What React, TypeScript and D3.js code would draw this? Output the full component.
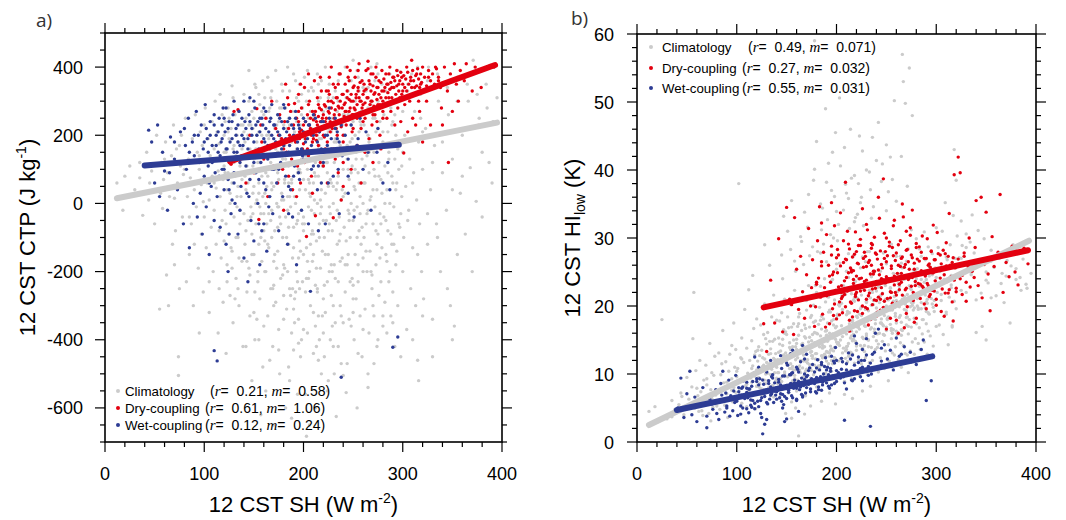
import React from 'react';
import * as d3 from 'd3';

type P = [number, number, number]; // [SH, CTP, HI_low]

const climatology: P[] = [
[12,60,4.5],[18,-20,5.2],[25,110,18.0],[30,40,3.4],[35,75,6.1],[38,-35,4.8],
[42,150,5.5],[44,10,7.2],[47,95,4.0],[50,-60,9.5],[52,200,6.3],[55,-310,8.1],[56,30,15.2],[57,120,22.0],[58,-15,5.0],[59,70,10.5],
[61,180,6.8],[62,-210,4.5],[63,90,12.0],[64,-300,7.4],[66,45,3.9],[67,140,9.1],[68,-120,5.6],[69,230,11.3],[70,15,8.4],[71,-80,6.0],[72,160,4.2],[73,60,14.5],[74,-505,7.7],[75,-250,10.2],[76,110,5.1],[77,200,9.8],[78,-40,12.6],[79,85,6.9],[74,-450,3.1],
[81,250,7.5],[82,-230,13.1],[83,20,4.8],[84,130,9.9],[85,-150,6.2],[86,75,16.4],[87,-60,8.7],[88,190,5.4],[89,-300,11.8],[90,40,7.1],[91,260,3.6],[92,-10,10.4],[93,150,12.9],[94,-190,6.6],[95,100,9.3],[95,-380,14.2],[96,210,5.9],[97,-90,8.0],[97,55,17.5],[98,170,11.0],[99,-260,7.3],[99,5,13.6],[100,120,6.4],[100,-40,9.6],
[101,280,10.8],[102,-130,38.0],[103,60,7.8],[104,190,12.4],[105,-320,5.7],[105,10,15.3],[106,140,9.0],[107,-70,11.7],[108,240,6.8],[108,80,19.5],[109,-200,8.3],[110,160,13.8],[110,-20,5.2],[111,300,10.1],[112,45,22.4],[112,-120,7.6],[113,210,12.0],[114,-380,9.4],[114,95,6.1],[115,-250,14.9],[115,175,8.8],[116,20,11.2],[117,-160,16.7],[117,130,7.0],[118,260,12.8],[118,-50,9.7],[119,70,4.9],[119,-290,13.3],[120,200,10.6],[120,-110,18.1],[120,110,8.2],[116,320,24.5],
[121,-20,11.9],[121,240,7.3],[122,-440,14.0],[122,150,9.5],[123,40,12.7],[123,-180,8.0],[124,90,17.2],[124,280,10.4],[125,-90,6.9],[125,190,13.5],[126,-270,11.1],[126,0,9.2],[127,220,15.8],[127,120,7.7],[128,-140,12.2],[128,60,20.3],[129,310,10.0],[129,-350,8.6],[130,170,14.4],[130,-40,11.0],[131,260,9.0],[131,80,16.1],[132,-220,12.9],[132,140,7.4],[133,-10,26.0],[133,200,11.5],[134,-100,13.7],[134,50,9.9],[135,270,18.4],[135,-300,10.7],[136,110,14.8],[136,-60,8.3],[137,230,12.3],[137,20,21.6],[138,-170,15.1],[138,160,10.2],[139,-420,11.6],[139,90,13.0],[140,320,17.9],[140,-30,9.4],[134,-250,6.8],[128,345,29.0],
[141,180,12.1],[141,-120,8.6],[142,40,15.3],[142,250,10.2],[143,-260,17.8],[143,110,9.1],[144,-50,13.4],[144,200,6.9],[145,300,11.6],[145,-190,19.0],[146,70,14.2],[146,-330,7.8],[147,150,12.8],[147,-10,16.5],[148,270,10.0],[148,-90,21.0],[149,30,13.1],[149,220,8.2],[150,-150,15.8],[150,130,11.5],[151,-400,9.6],[151,90,18.4],[152,340,12.3],[152,-60,7.2],[153,180,14.6],[153,10,10.8],[154,-230,20.2],[154,240,13.6],[155,60,5.9],[155,-120,16.9],[156,290,11.1],[156,-280,8.8],[157,150,17.4],[157,-30,12.7],[158,200,9.3],[158,-170,22.3],[159,100,14.0],[159,-480,10.6],[160,260,15.1],[160,-80,7.5],
[142,-420,8.1],[145,390,27.5],[148,-520,16.0],[151,350,31.0],[153,-340,12.8],[155,320,35.5],[157,-620,10.6],[159,360,25.1],[146,-210,24.0],[150,50,20.7],[152,160,7.3],[154,120,28.3],[156,-10,9.0],[158,80,26.6],[147,230,33.2],[149,-30,4.2],[155,210,3.5],[159,20,5.0],
[161,30,12.4],[161,310,9.1],[162,-200,15.7],[162,140,11.0],[163,-60,8.3],[163,250,18.9],[164,80,13.1],[164,-330,10.2],[165,190,16.4],[165,-130,7.0],[166,20,14.5],[166,280,21.3],[167,-250,11.9],[167,120,9.6],[168,-20,17.2],[168,330,13.4],[169,-420,6.8],[169,170,15.3],[170,50,10.7],[170,-170,19.4],[171,220,12.1],[171,-80,8.6],[172,100,14.0],[172,-290,23.0],[173,300,11.4],[173,0,16.9],[174,-140,9.4],[174,150,13.2],[175,-370,18.6],[175,70,10.5],[176,260,15.8],[176,-40,12.7],[177,190,20.1],[177,-220,9.9],[178,30,14.6],[178,350,11.3],[179,-100,17.8],[179,130,13.0],[180,-270,8.1],[180,230,22.0],
[162,-550,18.4],[164,370,30.2],[166,-460,12.0],[168,60,33.8],[170,-650,20.8],[172,390,36.4],[174,-10,10.9],[176,-500,28.7],[178,280,40.1],[180,10,44.2],[163,200,11.2],[165,-30,29.5],[167,310,26.1],[169,-250,10.4],[171,110,31.6],[173,-190,27.4],[175,240,12.7],[177,-60,38.5],[179,330,23.0],[161,-110,21.0],[178,150,59.0],[162,0,0.9],[168,-100,4.1],[174,90,5.3],
[181,70,14.4],[181,-190,10.7],[182,280,17.3],[182,-40,12.1],[183,150,19.8],[183,-310,9.2],[184,20,15.6],[184,240,22.9],[185,-120,11.3],[185,110,16.6],[186,-250,13.8],[186,330,8.9],[187,-10,18.1],[187,190,12.5],[188,-380,24.0],[188,60,14.9],[189,270,10.1],[189,-160,20.6],[190,120,15.7],[190,-70,11.9],[191,210,17.5],[191,-280,13.2],[192,0,9.7],[192,360,21.3],[193,-200,16.0],[193,160,12.6],[194,-50,19.1],[194,90,14.1],[195,300,10.4],[195,-340,23.7],[196,40,15.3],[196,-110,11.5],[197,230,18.0],[197,-450,13.4],[198,130,8.7],[198,-20,20.9],[199,280,16.8],[199,-230,12.2],[200,70,25.4],[200,-150,14.7],
[182,-600,14.6],[184,400,35.0],[186,-520,12.4],[188,-630,22.0],[190,380,38.2],[192,-260,11.5],[194,-560,30.5],[196,350,42.6],[198,-400,13.9],[200,-80,33.9],[183,-100,11.0],[185,250,31.2],[187,-270,29.1],[189,40,12.6],[191,-350,32.7],[193,310,13.1],[195,100,37.0],[197,-140,30.0],[199,200,45.5],[181,170,28.0],[189,120,49.0],[195,-30,12.0],[192,200,41.0],[198,320,36.1],[186,20,34.4],[190,-430,26.5],[184,-200,27.8],[196,-250,23.9],[188,180,14.0],[200,250,26.2],[185,60,6.0],[193,-60,7.2],[199,150,5.6],
[201,-60,14.4],[201,200,18.6],[202,40,11.9],[202,-260,20.2],[203,300,9.5],[203,-130,26.3],[204,100,15.0],[204,-380,12.2],[205,-10,22.1],[205,250,17.1],[206,-200,10.0],[206,150,19.5],[207,20,13.8],[207,-300,23.0],[208,340,16.6],[208,-90,8.9],[209,180,21.7],[209,-170,12.3],[210,60,25.1],[210,-440,15.9],[211,270,11.8],[211,-30,18.9],[212,120,14.5],[212,-240,24.2],[213,-110,10.4],[213,220,19.0],[214,0,16.7],[214,380,13.2],[215,-330,21.8],[215,80,9.3],[216,170,17.9],[216,-60,12.9],[217,-190,27.3],[217,310,15.1],[218,40,20.7],[218,-500,11.6],[219,240,23.6],[219,-140,14.8],[220,110,18.5],[220,-280,13.5],
[202,-560,32.0],[204,390,40.6],[206,-650,15.5],[208,-20,43.3],[210,330,13.6],[212,-360,35.8],[214,200,46.0],[216,-400,14.9],[218,360,39.2],[220,-50,16.2],[203,140,50.6],[205,-220,12.3],[207,270,34.1],[209,-80,37.9],[211,90,14.1],[213,-420,31.4],[215,300,38.8],[217,10,15.8],[219,-330,33.0],[201,370,29.6],[212,-600,27.7],[206,60,11.8],[218,190,32.4],[210,-150,36.6],[214,-250,12.9],[203,-683,20.0],[208,130,7.0],[216,-100,6.4],
[221,-100,16.9],[221,160,21.1],[222,30,12.1],[222,-320,24.0],[223,280,9.8],[223,-50,18.8],[224,90,14.2],[224,-230,25.6],[225,210,11.5],[225,-150,19.9],[226,-10,15.4],[226,350,27.2],[227,-400,10.6],[227,140,22.5],[228,60,13.3],[228,-270,17.6],[229,250,26.5],[229,-80,12.4],[230,0,20.7],[230,310,15.9],[231,-180,9.9],[231,120,23.1],[232,-350,14.0],[232,190,19.3],[233,40,28.0],[233,-625,11.7],[234,-120,16.6],[234,270,21.2],[235,80,13.9],[235,-230,24.3],[236,380,18.1],[236,-40,12.0],[237,170,20.8],[237,-300,15.5],[238,10,10.7],[238,-470,25.0],[239,230,17.4],[239,-160,13.6],[240,100,22.2],[240,-505,14.9],
[222,400,38.0],[224,-550,35.2],[226,220,42.8],[228,-180,14.2],[230,-420,40.0],[232,330,15.0],[234,-20,37.1],[236,150,44.8],[238,-330,16.6],[240,260,41.4],[221,-450,33.5],[225,50,36.0],[229,-360,17.0],[233,180,39.7],[237,-90,34.6],[239,320,18.0],[227,-30,31.8],[231,-500,28.0],[235,300,32.9],[223,120,45.0],[226,-200,7.5],[234,60,8.2],
[241,-70,18.7],[241,200,13.9],[242,30,22.8],[242,-260,10.3],[243,310,16.0],[243,-555,20.5],[244,130,12.4],[244,-180,25.1],[245,-20,17.5],[245,260,11.2],[246,-340,21.9],[246,70,14.8],[247,180,27.8],[247,-100,15.8],[248,0,10.8],[248,360,19.6],[249,-220,23.0],[249,110,13.4],[250,240,16.4],[250,-50,26.2],[251,-400,12.1],[251,50,18.2],[252,300,20.9],[252,-150,14.3],[253,150,24.0],[253,-280,11.9],[254,-10,17.3],[254,390,22.6],[255,90,15.2],[255,-230,29.1],[256,210,13.1],[256,-80,19.4],[257,20,16.5],[257,-330,24.8],[258,270,12.8],[258,-120,21.4],[259,130,14.0],[259,-450,18.9],[260,340,27.3],[260,0,16.3],
[242,400,47.0],[244,-470,17.5],[246,-30,40.9],[248,230,18.6],[250,-280,43.7],[252,100,36.8],[254,-600,19.4],[256,330,38.6],[258,60,50.2],[260,-200,35.4],[248,-360,20.7],[254,170,41.9],[250,420,34.0],[245,-150,38.3],[257,-30,20.0],[252,40,9.0],
[261,-100,20.5],[261,230,15.8],[262,60,24.7],[262,-310,12.1],[263,330,18.3],[263,-60,22.9],[264,140,14.6],[264,-200,27.3],[265,-20,16.5],[265,280,11.0],[266,-380,21.0],[266,90,25.6],[267,190,53.0],[267,-140,14.2],[268,20,19.5],[268,400,23.9],[269,-250,13.0],[269,160,49.8],[270,-60,17.2],[270,250,26.6],[271,100,12.8],[271,-330,21.7],[272,-10,15.9],[272,360,28.4],[273,-180,55.0],[273,210,18.0],[274,40,13.4],[274,-420,22.6],[275,300,16.9],[275,-90,31.2],[276,120,48.0],[276,-270,14.7],[277,-30,20.5],[277,240,25.3],[278,70,12.9],[278,-230,19.7],[279,350,23.1],[279,-130,15.2],[280,180,29.9],[280,-360,17.4],
[265,-500,42.0],[268,290,20.9],[271,-470,37.6],[274,410,19.9],[266,150,57.0],[272,80,10.2],
[281,-40,21.1],[281,260,25.5],[282,110,14.5],[282,-290,19.5],[283,330,28.4],[283,-150,16.8],[284,40,23.1],[284,-380,13.6],[285,210,20.5],[285,-80,27.3],[286,-230,15.9],[286,150,24.8],[287,380,18.0],[287,0,22.0],[288,-330,30.9],[288,280,14.7],[289,-120,19.7],[289,80,26.8],[290,240,17.4],[290,-260,23.9],[291,-10,12.9],[291,340,21.0],[292,130,28.7],[292,-420,16.3],[293,-180,24.4],[293,200,18.8],[294,60,15.6],[295,-300,22.5],[296,300,20.3],[296,-60,27.7],[297,170,14.1],[298,-450,19.2],[299,20,25.6],[300,270,17.0],[300,-200,31.5],
[301,-100,22.0],[302,200,28.6],[303,50,17.2],[304,-370,25.1],[305,330,20.8],[306,-20,31.0],[307,130,15.8],[308,-250,23.9],[309,380,35.2],[310,-130,19.1],[311,90,26.8],[312,270,14.3],[313,-300,21.3],[314,10,29.0],[315,-460,24.5],[316,180,16.9],[317,-60,33.3],[318,320,20.7],[319,-200,27.0],[320,100,38.5],[316,-520,17.1],[318,250,43.0],
[321,-280,30.3],[323,220,27.1],[325,-120,32.5],[326,400,28.9],[328,40,26.0],[330,-340,30.6],[332,170,25.2],[334,-60,29.4],[336,300,33.4],[338,-200,27.8],[340,90,16.1],[342,350,31.1],[344,-20,26.6],[346,260,17.0],[348,-300,29.9],[350,130,15.0],[352,-360,23.4],[355,370,28.2],[358,30,25.7],[360,200,21.5],
[363,-90,27.0],[366,300,24.8],[368,105,20.5],[371,420,26.7],[374,6,17.5],[377,250,29.0],[380,-40,23.9],[384,350,24.2],[387,120,26.9],[391,240,22.6],
[140,210,11.0],[142,-80,13.2],[144,60,9.4],[146,160,15.1],[148,-150,10.3],[150,250,12.7],[152,0,16.8],[154,-200,11.5],[156,120,14.0],[158,270,9.8],[160,-30,13.6],[162,90,17.4],[164,-120,12.0],[166,200,10.9],[168,40,15.5],[170,-240,11.8],[172,160,14.7],[174,-70,18.3],[176,280,12.3],[178,10,16.1],[180,-180,13.0],[182,130,11.2],[184,-20,17.9],[186,230,14.2],[188,70,12.9],[190,-130,16.4],[192,180,19.1],[194,-230,13.5],[196,100,15.9],[198,260,12.4],[200,-40,17.0],[202,140,14.6],[204,-170,20.3],[206,30,13.1],[208,220,16.5],[210,-90,18.7],[212,80,12.6],[214,-260,15.3],[216,190,17.7],[218,-10,21.2],[220,270,14.1],[222,-150,16.9],[224,120,19.6],[226,-60,13.8],[228,210,17.1],[230,50,20.5],[232,-220,15.0],[234,150,18.1],[236,-110,22.0],[238,240,16.2],[240,20,19.0],[242,-180,14.4],[244,170,21.5],[246,-50,17.3],[248,90,15.7],[250,-240,20.0],[252,200,18.4],[254,-100,22.7],[256,60,16.0],[258,230,19.8],[260,-160,17.5],[262,110,23.3],[264,-30,18.6],[266,180,16.4],[268,-200,21.4],[270,40,19.3],[272,250,17.0],[274,-120,22.8],[276,80,20.1],[278,-60,18.2],[280,210,24.0],[282,0,19.7],[284,-170,21.9],[286,130,18.0],[288,-90,23.5],[290,60,20.6],[292,260,19.0],[294,-140,22.4],[296,100,24.6],[298,-30,20.8],
[141,80,10.2],[143,-170,14.4],[145,230,8.9],[147,-40,12.5],[149,110,16.2],[151,-260,11.3],[153,200,13.9],[155,30,9.9],[157,-100,15.0],[159,150,12.1],[161,-200,17.0],[163,50,10.6],[165,270,14.3],[167,-50,12.8],[169,100,16.7],[171,-150,11.6],[173,230,15.4],[175,-10,13.3],[177,140,17.6],[179,-210,12.2],[181,60,15.9],[183,220,14.0],[185,-70,18.5],[187,120,12.7],[189,-250,16.3],[191,20,14.8],[193,240,19.4],[195,-160,13.7],[197,90,17.2],[199,-60,15.1],[201,190,18.8],[203,-220,14.2],[205,70,20.4],[207,-120,16.1],[209,250,13.4],[211,10,19.2],[213,-190,17.4],[215,160,15.6],[217,-30,20.9],[219,110,14.7],[221,-240,18.3],[223,220,16.6],[225,-80,21.6],[227,70,15.2],[229,-200,19.5],[231,180,17.8],[233,-50,22.3],[235,140,16.8],[237,-170,20.2],[239,40,18.9],[241,260,15.9],[243,-110,23.1],[245,100,19.1],[247,-230,17.1],[249,190,21.0],[251,-20,18.0],[253,130,23.8],[255,-180,16.7],[257,240,20.7],[259,-70,18.5],[261,60,22.1],[263,-140,19.9],[265,200,17.6],[267,10,24.2],[269,-210,20.3],[271,150,18.4],[273,-80,23.0],[275,220,21.3],[277,-160,19.4],[279,30,25.1],[281,170,20.0],[283,-50,22.9],[285,90,19.6],[287,-200,24.7],[289,230,21.6],[291,-120,20.4],[293,40,25.8],[295,160,22.6],[297,-70,19.8],[299,110,23.7],
[120,150,8.2],[122,-60,10.9],[124,210,7.0],[126,30,12.4],[128,-190,9.1],[130,120,11.7],[132,-100,8.0],[134,180,13.0],[136,-20,9.7],[138,70,12.1],[125,250,7.8],[131,-280,10.1],[137,140,6.6],[133,20,14.8],[127,-130,11.3],[139,230,9.0],[121,90,13.5],[135,-160,7.2],[129,160,15.2],[123,-230,8.6],
[150,-320,12.0],[160,-360,14.5],[170,-300,9.7],[180,-340,16.0],[190,-310,13.3],[200,-370,18.2],[210,-320,14.0],[220,-380,17.3],[230,-300,15.6],[240,-350,19.7],[250,-320,16.9],[260,-370,20.8],[270,-300,18.3],[280,-330,21.7],[290,-350,19.2],[155,-400,10.8],[175,-430,14.9],[195,-410,17.8],[215,-460,13.1],[235,-420,20.1],[255,-440,16.4],[275,-400,22.4],[185,-480,12.7],[225,-520,18.6],[265,-540,15.7],
[205,330,21.5],[215,350,16.3],[225,310,19.8],[235,360,24.4],[245,330,18.1],[255,370,22.0],[265,340,26.3],[275,380,20.5],[285,350,23.9],[295,390,21.1],[305,350,25.4],[315,400,22.7],[325,360,27.0],[335,380,24.6],[345,340,21.9],[355,300,26.6],[365,350,23.3],[375,320,25.9],[385,280,22.3],[395,310,24.8],
[300,150,24.2],[305,-50,21.7],[310,60,27.2],[315,-150,23.1],[320,210,25.7],[325,-30,22.3],[330,120,28.6],[335,-100,24.9],[340,180,20.9],[345,-250,26.4],[350,40,23.8],[355,-150,21.2],[360,80,27.4],[370,-200,24.4],[380,150,25.5],[390,60,23.2],[310,-400,18.8],[330,-450,22.0],[350,-400,25.0],[320,-330,19.6],
[60,130,7.9],[70,-180,9.3],[80,100,5.3],[90,-120,8.8],[100,230,10.4],[65,20,4.6],[75,170,6.4],[85,-40,11.5],[95,140,7.6],[105,-230,12.2],[110,60,8.5],[115,-80,10.8],[45,60,6.7],[35,120,3.7],[20,80,2.9],
];

const dryCoupling: P[] = [
[127,115,17.4],[130,270,13.3],[134,275,23.8],[138,140,17.5],[142,60,29.9],[146,200,16.2],[150,90,34.5],[153,278,21.0],[155,-47,20.2],[158,180,33.0],[160,130,25.4],[157,230,15.8],
[162,250,19.5],[164,20,27.3],[166,170,22.1],[168,300,18.2],[170,110,24.6],[172,220,31.4],[174,60,20.0],[176,260,26.8],[178,190,17.0],[180,-20,23.2],[181,240,29.6],[183,150,34.6],[184,310,21.3],[185,80,25.9],[186,200,18.8],[187,270,27.9],[188,130,22.7],[189,40,16.9],[190,230,30.5],[182,350,24.1],[179,100,19.9],[185,290,32.2],
[191,293,21.8],[192,180,26.0],[193,250,17.4],[194,110,23.5],[195,320,28.8],[196,210,19.6],[197,60,25.0],[198,280,31.8],[199,160,22.3],[200,230,18.1],[201,340,24.9],[202,190,27.5],[203,-97,20.6],[204,260,33.7],[205,140,23.0],[206,300,19.0],[207,220,26.4],[208,80,21.7],[209,270,38.2],[210,190,24.2],[211,360,22.5],[212,-36,29.1],[213,240,17.9],[214,310,25.6],[215,170,20.4],[216,280,27.2],[217,120,23.9],[218,330,19.3],[219,250,30.9],[220,200,22.0],[193,20,24.4],[197,350,18.6],[201,120,28.3],[205,380,21.1],[209,30,26.9],[213,200,16.3],[217,370,25.2],[195,240,35.2],[211,260,31.0],[219,150,21.4],
[221,290,26.3],[222,240,20.9],[223,330,24.0],[224,180,29.8],[225,270,22.8],[226,370,18.9],[227,210,27.0],[228,300,23.6],[229,140,19.8],[230,-42,25.8],[231,260,31.2],[232,340,21.5],[233,220,26.7],[234,310,23.1],[235,90,28.5],[236,280,20.2],[237,380,24.7],[238,240,30.1],[239,320,22.6],[240,180,27.6],[241,290,19.1],[242,350,25.3],[243,230,32.9],[244,310,21.0],[245,150,26.1],[246,270,23.9],[247,390,38.7],[248,300,20.7],[249,210,28.0],[250,340,24.3],[224,60,22.2],[228,400,27.9],[232,130,17.2],[236,380,29.0],[240,50,23.3],[244,400,19.4],[248,100,30.7],[226,320,34.3],[234,200,18.0],[242,270,36.0],[238,10,25.1],[246,360,21.8],[230,350,32.0],[222,160,28.9],[250,260,16.6],
[251,280,27.4],[252,370,23.7],[253,320,29.4],[254,250,21.2],[255,340,25.9],[256,410,19.7],[257,300,31.8],[258,220,24.4],[259,360,22.0],[260,290,27.8],[261,330,20.5],[262,250,26.0],[263,390,23.2],[264,310,29.6],[265,417,24.8],[266,270,21.6],[267,350,33.1],[268,300,25.7],[269,230,22.4],[270,380,28.2],[271,320,19.9],[272,260,26.5],[273,400,24.1],[274,340,30.4],[275,290,22.9],[276,360,27.1],[277,200,20.8],[278,310,25.4],[279,390,23.6],[280,270,29.2],[254,170,18.2],[258,60,32.6],[262,150,16.0],[266,190,35.0],[270,120,18.9],[274,240,31.5],[278,160,17.6],[256,310,28.6],[268,380,16.8],[276,280,34.1],
[281,330,26.9],[282,290,23.3],[283,380,28.7],[284,250,21.1],[285,350,25.2],[286,310,30.3],[287,400,22.7],[288,270,27.0],[289,340,24.6],[290,300,19.6],[291,370,29.9],[292,230,23.0],[293,320,26.2],[294,390,21.7],[295,280,28.1],[296,350,24.9],[297,310,31.9],[298,240,22.2],[299,370,26.8],[300,330,20.1],[302,290,25.5],[304,400,27.5],[306,310,23.4],[308,360,18.5],[310,250,29.3],[312,340,21.9],[314,380,24.2],[316,300,26.4],[318,350,39.3],[320,180,22.6],[301,148,30.8],[305,210,19.2],[309,420,27.7],[313,230,33.6],[317,270,17.8],
[322,330,41.9],[324,300,39.6],[326,370,24.5],[328,230,27.3],[330,340,20.7],[333,400,30.0],[336,360,25.1],[339,280,28.6],[342,400,23.0],[345,330,36.0],[348,380,26.1],[350,270,33.8],[352,410,24.7],[354,350,19.3],[356,300,30.2],[358,390,25.8],[340,230,35.5],[346,120,21.2],
[362,360,27.9],[364,410,36.4],[367,380,22.0],[370,330,26.4],[373,400,24.3],[376,229,28.8],[379,340,25.0],[382,395,23.1],[388,405,28.5],[392,400,26.2],
[196,190,24.6],[198,215,20.3],[200,175,27.1],[202,240,22.8],[203,205,18.7],[204,160,25.9],[206,230,21.4],[207,250,29.6],[208,200,23.7],[209,180,19.9],[210,245,26.8],[211,215,22.2],[212,270,24.9],[213,185,28.4],[214,230,20.6],[215,255,25.3],[216,210,18.4],[217,240,23.3],[218,275,27.6],[219,225,21.7],[220,260,24.4],[221,195,19.2],[222,285,26.2],[223,250,22.9],[224,230,28.9],[225,300,24.1],[226,265,20.0],[227,240,25.7],[228,280,22.3],[229,220,27.3],[230,295,23.8],[231,250,19.6],[232,275,26.4],[233,310,21.9],[234,240,24.7],[235,285,29.2],[236,260,22.5],[237,300,25.1],[238,225,20.9],[239,280,27.8],[240,320,23.6],[241,255,26.9],[242,295,21.3],[243,270,24.6],[244,330,28.1],[245,245,22.7],[246,305,25.6],[247,280,19.8],[248,320,27.0],[249,260,23.4],[250,300,26.5],[251,345,21.1],[252,275,24.0],[253,310,28.8],[254,290,22.1],[255,330,25.5],[256,265,20.4],[257,355,27.4],[258,300,23.1],[259,280,26.7],[260,320,21.6],[261,350,24.8],[262,295,29.0],[263,335,22.4],[264,270,25.8],[265,310,23.5],[266,360,27.2],[267,290,20.7],[268,330,24.3],[269,300,26.1],[270,345,22.6],[271,285,28.3],[272,325,23.9],[273,370,25.4],[274,305,21.2],[275,340,27.5],[276,320,24.2],[277,290,22.0],[278,355,26.3],[279,330,23.0],[280,300,28.6],[281,365,24.5],[282,340,21.8],[283,310,26.6],[284,350,23.2],[285,325,27.9],[286,380,22.9],[287,335,25.0],[288,355,20.3],[289,310,24.4],[290,370,27.0],[291,340,23.3],[292,360,26.0],[293,300,21.4],[294,345,25.7],[295,375,28.0],[296,330,22.3],[297,360,24.9],[298,385,26.8],[299,320,23.7],[300,350,21.0],[301,375,25.3],[302,340,27.7],[303,365,23.0],[304,330,24.1],[305,385,26.2],[306,350,22.5],[307,300,28.2],[308,370,24.6],[309,340,21.9],[310,390,25.9],[311,360,23.6],[312,320,27.3],[313,375,22.4],[314,345,26.0],[315,395,24.3],[316,365,20.6],[317,340,27.1],[318,380,23.8],[319,355,25.6],[320,400,22.1],[322,370,26.9],[324,345,24.0],[326,390,21.7],[328,360,27.8],[330,380,23.5],[332,350,25.8],[334,395,22.8],[336,370,26.5],[338,340,24.2],[230,160,21.0],[240,200,18.5],[250,220,30.0],[260,240,17.9],[270,260,31.0],[280,250,18.2],[225,330,23.0],[235,350,26.0],[245,370,24.0],[255,390,22.0],[265,395,27.0],[215,290,25.0],[205,290,22.0],[195,270,27.5],[190,190,21.5],[185,220,26.5],[180,160,23.5],[175,200,22.7],[220,110,28.0],[240,120,20.8],
];

const wetCoupling: P[] = [
[41,110,5.0],[44,215,9.4],[47,180,3.6],[50,60,7.1],[53,230,10.4],[55,20,4.0],[58,150,6.6],[60,95,3.0],[63,-20,5.5],[66,195,8.0],[70,130,2.1],[73,40,6.3],[76,210,4.8],[79,-60,7.7],
[81,170,5.9],[82,100,3.3],[84,250,8.6],[85,-130,6.0],[86,60,10.4],[88,180,4.4],[89,0,7.2],[90,140,5.3],[92,270,9.1],[93,-40,3.8],[94,200,6.8],[95,120,8.3],[96,30,4.6],[97,230,7.5],[98,-90,5.8],[99,160,9.8],[100,80,6.2],[101,290,3.9],[102,-10,8.0],[103,190,6.9],[104,110,4.1],[105,-150,7.9],[106,240,5.0],[107,50,9.0],[108,170,6.4],[109,130,2.9],[110,-432,7.3],[110,260,8.8],
[111,90,6.5],[112,200,4.3],[113,-462,7.8],[113,20,9.6],[114,150,5.4],[115,250,8.2],[116,-70,6.1],[117,180,10.1],[118,100,4.9],[119,280,7.0],[120,40,8.9],[121,210,6.0],[122,-120,5.2],[123,160,9.3],[124,70,7.4],[125,240,3.6],[126,130,1.2],[127,-30,8.5],[128,190,6.7],[129,260,10.6],[130,90,7.7],[131,0,5.6],[132,220,9.0],[133,150,6.3],[134,-90,8.1],[135,270,7.1],[136,120,11.2],[137,50,5.8],[138,200,8.7],[139,170,6.9],[140,-160,7.4],[118,230,12.5],[124,-200,4.2],[130,300,3.3],[136,-20,9.9],[122,280,11.0],[128,10,2.6],[134,180,12.0],
[141,240,7.6],[142,110,9.2],[143,30,6.5],[144,190,8.4],[145,260,10.8],[146,70,7.0],[147,-50,5.5],[148,220,9.7],[149,150,8.0],[150,-110,6.4],[151,280,11.3],[152,90,7.3],[153,200,9.9],[154,0,8.6],[155,160,6.8],[156,250,10.2],[157,120,7.9],[158,-80,9.1],[159,230,8.2],[160,60,6.1],[161,180,10.7],[162,270,8.9],[163,-140,7.7],[164,130,11.8],[165,210,9.4],[166,20,6.6],[167,250,8.3],[168,100,10.0],[169,-30,7.2],[170,190,9.6],[144,-230,12.7],[150,300,3.4],[156,-180,13.5],[162,40,4.5],[168,290,12.2],[148,140,3.0],[154,240,13.0],[160,-60,11.0],[166,160,14.2],[146,310,5.0],
[171,230,9.8],[172,140,8.5],[173,60,10.9],[174,260,7.8],[175,-80,9.3],[176,200,11.4],[177,120,8.8],[178,240,10.3],[179,20,7.4],[180,170,9.5],[181,280,12.1],[182,80,8.1],[183,210,10.6],[184,-120,9.0],[185,150,11.7],[186,250,8.4],[187,40,10.0],[188,190,9.2],[189,-40,12.4],[190,220,8.7],[191,110,11.0],[192,270,9.9],[193,-180,7.9],[194,160,10.8],[195,230,12.6],[196,70,9.4],[197,200,11.9],[198,-20,8.6],[199,140,13.9],[200,250,10.5],
[202,180,10.2],[205,230,12.3],[207,-258,9.6],[208,100,3.2],[210,260,11.5],[212,150,13.1],[214,40,10.0],[216,210,12.8],[218,240,9.3],[220,120,14.5],[222,-60,11.7],[224,200,10.8],[226,250,13.6],[228,160,12.0],[230,80,15.2],[232,220,11.1],[234,190,2.3],[236,-30,12.9],[238,-510,10.7],[239,140,16.0],[226,280,9.0],[218,60,15.6],
[242,200,16.6],[245,130,11.9],[248,230,14.3],[251,-40,12.2],[254,170,13.5],[257,250,10.6],[260,100,15.3],[263,210,12.6],[268,-20,14.0],[274,150,13.2],[280,60,11.4],[287,40,15.0],[290,-422,6.1],[295,-392,9.0],
[100,180,6.0],[102,220,7.4],[104,150,5.3],[106,200,8.1],[108,120,6.6],[110,230,4.9],[112,170,7.8],[114,210,6.2],[116,140,8.9],[118,190,5.7],[120,250,7.0],[122,160,8.4],[124,220,6.1],[126,180,9.1],[128,240,7.2],[130,150,5.8],[132,200,8.6],[134,230,6.9],[136,170,9.4],[138,250,7.5],[140,190,6.3],[142,220,8.8],[144,160,7.1],[146,240,9.7],[148,200,6.7],[150,180,8.3],[152,230,7.6],[154,150,9.9],[156,210,6.5],[158,250,8.7],[160,190,7.9],[162,220,10.3],[164,170,8.1],[166,240,6.8],[168,200,9.2],[170,230,8.0],[172,180,10.5],[174,210,7.4],[176,250,9.0],[178,160,8.6],[180,220,10.9],[182,190,7.7],[184,240,9.6],[186,170,8.8],[188,230,11.1],[190,200,9.3],[192,250,8.2],[194,180,10.4],[196,220,9.7],[198,160,11.6],[200,210,8.9],[202,240,10.1],[204,190,9.4],[206,230,11.8],[208,170,8.7],[210,200,10.6],[212,250,9.9],[214,180,12.2],[216,220,9.0],[218,160,11.3],[220,240,10.2],[222,200,12.5],[224,170,9.6],[226,230,11.0],[228,190,10.4],[230,140,12.8],[232,250,9.8],[234,210,11.6],[236,180,10.9],[238,230,13.2],
[105,60,6.9],[115,80,5.1],[125,40,7.3],[135,90,9.6],[145,20,6.0],[155,70,10.1],[165,-10,7.0],[175,100,9.1],[185,50,11.4],[195,90,8.4],[205,-60,10.7],[215,110,9.1],[225,60,12.0],[235,100,10.0],[245,80,13.8],[255,190,11.1],[265,150,12.9],[275,220,11.8],[285,120,13.6],[90,200,5.0],[85,150,6.9],[80,220,4.2],[75,120,5.6],[70,180,3.8],[65,90,6.2],[140,300,8.0],[150,120,11.6],[160,280,6.3],[170,100,12.9],[180,290,7.2],[190,80,10.6],[200,130,12.0],[210,110,7.8],[130,60,10.3],[120,100,9.3],[110,-50,7.9],[125,-90,6.5],[155,-60,8.5],[185,-30,7.6],[215,-80,10.5],[245,30,11.3],
];

const seriesNames = ['Climatology', 'Dry-coupling', 'Wet-coupling'];
const seriesColors = ['#cbcbcb', '#e3000f', '#2d3c94'];

const shTicks = [0, 100, 200, 300, 400];
const ctpTicks = [-600, -400, -200, 0, 200, 400];
const hiTicks = [0, 10, 20, 30, 40, 50, 60];

const ctpR = ['0.21', '0.61', '0.12'];
const ctpM = ['0.58', '1.06', '0.24'];
const hiR = ['0.49', '0.27', '0.55'];
const hiM = ['0.071', '0.032', '0.031'];

// regression lines: [SH start, value start, SH end, value end]
const ctpFits = [[12, 15, 395, 237], [126, 123, 393, 406], [40, 111, 296, 172]];
const hiFits = [[12, 2.5, 393, 29.6], [127, 19.8, 392, 28.2], [40, 4.7, 296, 12.6]];

const FONT = "'Liberation Sans', Arial, Helvetica, sans-serif";
const MATH = "'Liberation Serif', 'Times New Roman', serif";

type PanelProps = {
  left: number; right: number; top: number; bottom: number;
  yDomain: [number, number]; yIndex: 1 | 2; yTicks: number[]; yMinorStep: number;
  fits: number[][]; rs: string[]; ms: string[];
  legendX: number; legendTextX: number; legendParenX: number[]; legendRowY: number[];
  yLabel: React.ReactNode; yLabelX: number; tickLabelRight: number;
};

function Panel(p: PanelProps) {
  const x = d3.scaleLinear().domain([0, 400]).range([p.left, p.right]);
  const y = d3.scaleLinear().domain(p.yDomain).range([p.bottom, p.top]);
  const xMinor = d3.range(0, 400.001, 20);
  const yMinor = d3.range(p.yDomain[0], p.yDomain[1] + 0.001, p.yMinorStep);
  const series = [climatology, dryCoupling, wetCoupling];
  const maj = 10, mnr = 5;
  const cy = (p.top + p.bottom) / 2;
  return (
    <g>
      {series.map((s, si) => (
        <g key={si} fill={seriesColors[si]}>
          {s.map((d, i) => (
            <circle key={i} cx={x(d[0])} cy={y(d[p.yIndex])} r={1.7} />
          ))}
        </g>
      ))}
      {p.fits.map((f, i) => (
        <line key={i} x1={x(f[0])} y1={y(f[1])} x2={x(f[2])} y2={y(f[3])}
          stroke={seriesColors[i]} strokeWidth={6} strokeLinecap="round" />
      ))}
      {seriesNames.map((n, i) => (
        <g key={n}>
          <circle cx={p.legendX} cy={p.legendRowY[i]} r={2} fill={seriesColors[i]} />
          <text x={p.legendTextX} y={p.legendRowY[i] + 5} fontFamily={FONT} fontSize={13.3} fill="#000">{n}</text>
          <text x={p.legendParenX[i]} y={p.legendRowY[i] + 5} fontFamily={FONT} fontSize={14} fill="#000" style={{ whiteSpace: 'pre' }}>
            {'('}<tspan fontFamily={MATH} fontStyle="italic" fontSize={15}>r</tspan>{'=  ' + p.rs[i] + ', '}
            <tspan fontFamily={MATH} fontStyle="italic" fontSize={15}>m</tspan>{'=  ' + p.ms[i] + ')'}
          </text>
        </g>
      ))}
      <rect x={p.left} y={p.top} width={p.right - p.left} height={p.bottom - p.top} fill="none" stroke="#000" strokeWidth={1.6} />
      <g stroke="#000" strokeWidth={1.2}>
        {xMinor.map((v) => {
          const len = v % 100 === 0 ? maj : mnr;
          return (
            <g key={'x' + v}>
              <line x1={x(v)} x2={x(v)} y1={p.bottom} y2={p.bottom + len} />
              <line x1={x(v)} x2={x(v)} y1={p.top} y2={p.top - len} />
            </g>
          );
        })}
        {yMinor.map((v) => {
          const len = p.yTicks.includes(v) ? maj : mnr;
          return (
            <g key={'y' + v}>
              <line x1={p.left} x2={p.left - len} y1={y(v)} y2={y(v)} />
              <line x1={p.right} x2={p.right + len} y1={y(v)} y2={y(v)} />
            </g>
          );
        })}
      </g>
      {shTicks.map((v) => (
        <text key={'xl' + v} x={x(v)} y={p.bottom + 38} textAnchor="middle" fontFamily={FONT} fontSize={18}>{v}</text>
      ))}
      {p.yTicks.map((v) => (
        <text key={'yl' + v} x={p.tickLabelRight} y={y(v) + 6.5} textAnchor="end" fontFamily={FONT} fontSize={18}>{v}</text>
      ))}
      <text x={(p.left + p.right) / 2} y={512} textAnchor="middle" fontFamily={FONT} fontSize={22}>
        12 CST SH (W m<tspan fontSize={14} dy={-9}>-2</tspan><tspan dy={9}>)</tspan>
      </text>
      <text transform={`translate(${p.yLabelX},${cy}) rotate(-90)`} textAnchor="middle" fontFamily={FONT} fontSize={22}>
        {p.yLabel}
      </text>
    </g>
  );
}

export default function App() {
  return (
    <svg width={1066} height={520} style={{ position: 'absolute', left: 0, top: 0, background: '#fff' }}>
      <rect width={1066} height={520} fill="#fff" />
      <text x={36} y={27} fontFamily="'Open Sans', sans-serif" fontSize={19} fill="#333">a)</text>
      <text x={571} y={25} fontFamily="'Open Sans', sans-serif" fontSize={19} fill="#333">b)</text>
      <Panel left={105} right={502} top={33} bottom={442} yDomain={[-700, 500]} yIndex={1}
        yTicks={ctpTicks} yMinorStep={50} fits={ctpFits} rs={ctpR} ms={ctpM}
        legendX={118} legendTextX={125} legendParenX={[210, 205, 205]} legendRowY={[391, 408, 425]}
        yLabelX={35} tickLabelRight={83}
        yLabel={<>12 CST CTP (J kg<tspan fontSize={14} dy={-9}>-1</tspan><tspan dy={9}>)</tspan></>} />
      <Panel left={637} right={1036} top={34} bottom={442} yDomain={[0, 60]} yIndex={2}
        yTicks={hiTicks} yMinorStep={2} fits={hiFits} rs={hiR} ms={hiM}
        legendX={651} legendTextX={662} legendParenX={[748, 742, 742]} legendRowY={[47, 68, 88]}
        yLabelX={580} tickLabelRight={614}
        yLabel={<>12 CST HI<tspan fontSize={14} dy={5}>low</tspan><tspan dy={-5}> (K)</tspan></>} />
    </svg>
  );
}
